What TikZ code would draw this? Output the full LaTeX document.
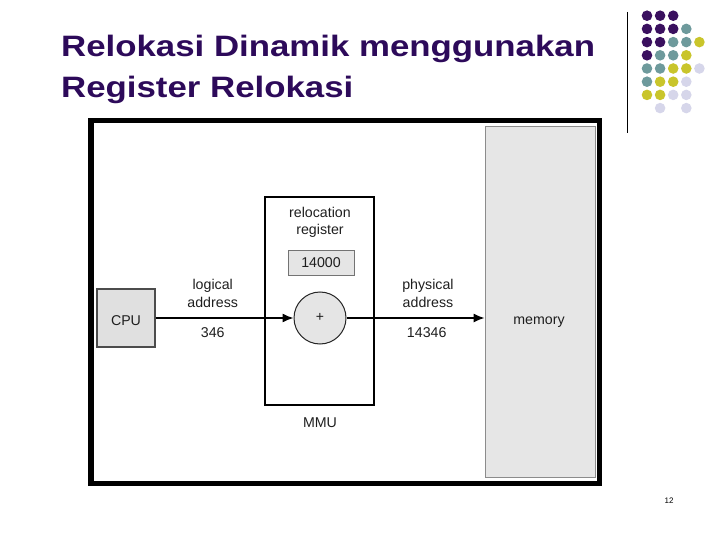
\documentclass[tikz,border=0pt]{standalone}
\usepackage{fontspec}
\setmainfont{Liberation Sans}
\usetikzlibrary{arrows.meta}
\definecolor{titlec}{RGB}{45,10,90}
\definecolor{dotP}{RGB}{58,16,95}
\definecolor{dotT}{RGB}{110,154,156}
\definecolor{dotY}{RGB}{201,197,43}
\definecolor{dotL}{RGB}{214,214,234}
\definecolor{boxfill}{RGB}{229,229,229}
\definecolor{txt}{RGB}{30,30,30}
\tikzset{
  titletext/.style={anchor=base west, text=titlec, font=\bfseries\fontsize{29.5}{35}\selectfont, inner sep=0pt},
  lbl/.style={anchor=base, text=txt, font=\fontsize{14.2}{17}\selectfont, inner sep=0pt},
  graybox/.style={draw=black!55, fill=boxfill, line width=0.9pt, inner sep=0pt},
  flow/.style={line width=1.3pt, -{Latex[length=11pt,width=9pt]}},
  dot/.style={circle, inner sep=0pt, minimum size=10.6pt},
}
\begin{document}
\begin{tikzpicture}[x=1pt,y=-1pt]
\useasboundingbox (0,0) rectangle (720,540);
% title
\node[titletext] (t1) at (61,56.5) {\scalebox{1.18}[1]{Relokasi Dinamik menggunakan}};
\node[titletext] (t2) at (61,97.5) {\scalebox{1.18}[1]{Register Relokasi}};
% vertical line
\draw[line width=1pt] (627,12) -- (627,133);
% dots
\foreach \row/\list in {0/{1/P,2/P,3/P},1/{1/P,2/P,3/P,4/T},2/{1/P,2/P,3/T,4/T,5/Y},3/{1/P,2/T,3/T,4/Y},4/{1/T,2/T,3/Y,4/Y,5/L},5/{1/T,2/Y,3/Y,4/L},6/{1/Y,2/Y,3/L,4/L},7/{2/L,4/L}}{
  \foreach \c/\k in \list {
    \node[dot, fill=dot\k] (d\row\c) at ({647+13.1*(\c-1)},{15.7+13.2*\row}) {};
  }
}
% frame
\draw[line width=5.5pt] (90.75,120.75) rectangle (599.25,483.25);
% memory
\node[graybox, draw=black!45, minimum width=110pt, minimum height=351pt, fill=boxfill!95!white] (mem) at (540,301.5) {};
\node[lbl] (memt) at (539,324.3) {memory};
% CPU
\node[graybox, draw=black!70, line width=1.2pt, minimum width=58pt, minimum height=58pt, fill=black!12] (cpu) at (126,318) {};
\node[lbl] (cput) at (126,325) {CPU};
% MMU
\node[draw, line width=1.5pt, minimum width=109pt, minimum height=208pt, inner sep=0pt] (mmu) at (319.5,301) {};
\node[lbl] (mmut) at (320,427.5) {MMU};
\node[lbl] (rel1) at (320,217.7) {relocation};
\node[lbl] (rel2) at (320,235) {register};
\node[graybox, minimum width=66pt, minimum height=25pt] (reg) at (321,262.5) {};
\node[lbl] (regt) at (321,267) {14000};
% adder
\node[circle, draw=black!85, line width=1pt, fill=boxfill, minimum size=52pt, inner sep=0pt] (adder) at (320,318) {};
\node[font=\fontsize{14}{14}\selectfont, text=txt, inner sep=0pt] (plus) at (320,317) {+};
% labels
\node[lbl] (la1) at (212.7,289) {logical};
\node[lbl] (la2) at (212.7,307) {address};
\node[lbl] (la3) at (212.7,337.7) {346};
\node[lbl] (pa1) at (428,289) {physical};
\node[lbl] (pa2) at (428,307) {address};
\node[lbl] (pa3) at (426.7,337.7) {14346};
% arrows
\draw[flow] (cpu.east) -- (adder.west);
\draw[flow] (adder.east) -- (adder.east -| mem.west);
% page number
\node[font=\fontsize{8}{8}\selectfont, inner sep=0pt] (pg) at (669,501) {12};
\end{tikzpicture}
\end{document}
